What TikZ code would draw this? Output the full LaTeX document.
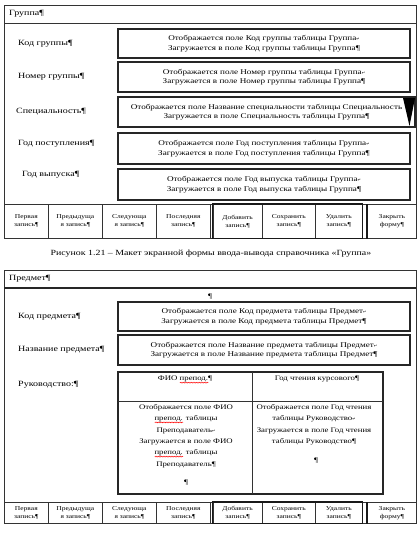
\documentclass[tikz,border=0pt]{standalone}
\usepackage{fontspec}
\setmainfont{Liberation Serif}[FakeStretch=1.25]
\newfontfamily\symfont{DejaVu Sans}
\usetikzlibrary{decorations.pathmorphing}
\newlength\sqlen
\newcommand\redsq[1]{\settowidth\sqlen{#1}\rlap{\tikz[baseline=0pt,x=1pt,y=1pt]\draw[red,line width=0.35pt,decorate,decoration={snake,amplitude=0.5pt,segment length=1.6pt}] (0pt,-1.8pt) -- (\the\sqlen,-1.8pt);}#1}
\newcommand\brkm{{\symfont\fontsize{4}{4}\selectfont ↵}}
\begin{document}
\begin{tikzpicture}[x=1pt,y=-1pt,
  frame/.style={draw=black!80, line width=0.9pt},
  fieldbox/.style={draw=black!85, line width=1.5pt, inner sep=0pt, align=center, font=\fontsize{7.3}{9.5}\selectfont},
  lbl/.style={anchor=west, inner sep=0pt, font=\fontsize{8}{9}\selectfont},
  btn/.style={draw=black!80, line width=0.7pt, inner sep=0pt, align=center, anchor=north west, font=\fontsize{6}{8}\selectfont},
  cell/.style={inner sep=0pt, align=center, anchor=north, font=\fontsize{7}{11.4}\selectfont},
  thickgrp/.style={draw=black!90, line width=1.5pt},
]
\useasboundingbox (0,0) rectangle (418,533);

% ---------------- Form 1: Группа ----------------
\draw[frame] (4,5) rectangle (416,238);
\draw[frame] (4,23) -- (416,23);
\node[lbl] (t1) at (9,14) {Группа¶};

\node[lbl] (l1) at (18,44) {Код группы¶};
\node[fieldbox, minimum width=292pt, minimum height=29pt] (f1) at (264,43.5)
  {Отображается поле Код группы таблицы Группа\brkm\\Загружается в поле Код группы таблицы Группа¶};
\node[lbl] (l2) at (18,77) {Номер группы¶};
\node[fieldbox, minimum width=292pt, minimum height=30pt] (f2) at (264,77)
  {Отображается поле Номер группы таблицы Группа\brkm\\Загружается в поле Номер группы таблицы Группа¶};
\node[lbl] (l3) at (16,112) {Специальность¶};
\node[fieldbox, minimum width=297pt, minimum height=30pt] (f3) at (266.5,112)
  {Отображается поле Название специальности таблицы Специальность\\Загружается в поле Специальность таблицы Группа¶};
\fill[black] (403,98) -- (415,98) -- (409.5,126) -- cycle;
\node[lbl] (l4) at (18,144) {Год поступления¶};
\node[fieldbox, minimum width=292pt, minimum height=31pt] (f4) at (264,148.5)
  {Отображается поле Год поступления таблицы Группа\brkm\\Загружается в поле Год поступления таблицы Группа¶};
\node[lbl] (l5) at (22,175) {Год выпуска¶};
\node[fieldbox, minimum width=292pt, minimum height=31pt] (f5) at (264,184.5)
  {Отображается поле Год выпуска таблицы Группа\brkm\\Загружается в поле Год выпуска таблицы Группа¶};

% buttons form 1
\draw[frame] (4,204) -- (416,204);
\node[btn, minimum width=44pt, minimum height=34pt] (a1) at (4,204) {Первая\\запись¶};
\node[btn, minimum width=54pt, minimum height=34pt] (a2) at (48,204) {Предыдуща\\я запись¶};
\node[btn, minimum width=54pt, minimum height=34pt] (a3) at (102,204) {Следующа\\я запись¶};
\node[btn, minimum width=54pt, minimum height=34pt] (a4) at (156,204) {Последняя\\запись¶};
\node[btn, minimum width=49.5pt, minimum height=34pt] (a5) at (212.5,204) {Добавить\\запись¶};
\node[btn, minimum width=53pt, minimum height=34pt] (a6) at (262,204) {Сохранить\\запись¶};
\node[btn, minimum width=47pt, minimum height=34pt] (a7) at (315,204) {Удалить\\запись¶};
\node[btn, minimum width=49pt, minimum height=34pt] (a8) at (367,204) {Закрыть\\форму¶};
\draw[thickgrp] (a5.north west) rectangle (a7.south east);
\draw[thickgrp] (a8.north west) -- (a8.south west);

\node[font=\fontsize{7.9}{9}\selectfont, inner sep=0pt] (cap) at (211,254)
  {Рисунок 1.21 – Макет экранной формы ввода-вывода справочника «Группа»};

% ---------------- Form 2: Предмет ----------------
\draw[frame] (4,270) rectangle (416,523);
\draw[draw=black!85, line width=1.8pt] (4,288) -- (416,288);
\node[lbl] (t2) at (9,279) {Предмет¶};
\node[font=\fontsize{7}{8}\selectfont, inner sep=0pt] (pm) at (210,297) {¶};

\node[lbl] (m1) at (18,317) {Код предмета¶};
\node[fieldbox, minimum width=292pt, minimum height=29pt] (g1) at (264,316.5)
  {Отображается поле Код предмета таблицы Предмет\brkm\\Загружается в поле Код предмета таблицы Предмет¶};
\node[lbl] (m2) at (18,350) {Название предмета¶};
\node[fieldbox, minimum width=292pt, minimum height=30pt] (g2) at (264,350)
  {Отображается поле Название предмета таблицы Предмет\brkm\\Загружается в поле Название предмета таблицы Предмет¶};
\node[lbl] (m3) at (18,385) {Руководство:¶};

% table
\draw[draw=black!85, line width=1.3pt] (118,372) rectangle (383,494);
\draw[draw=black!80, line width=0.7pt] (252,372) -- (252,494);
\draw[draw=black!80, line width=0.7pt] (118,401) -- (383,401);
\node[cell] (h1) at (185,376) {ФИО \redsq{препод.}¶};
\node[cell] (h2) at (317,376) {Год чтения курсового¶};
\node[cell] (c1) at (186,404)
  {Отображается поле ФИО\\\redsq{препод.} таблицы\\Преподаватель\brkm\\Загружается в поле ФИО\\\redsq{препод.} таблицы\\Преподаватель¶};
\node[cell] (c1b) at (186,480) {¶};
\node[cell] (c2) at (314,404)
  {Отображается поле Год чтения\\таблицы Руководство\brkm\\Загружается в поле Год чтения\\таблицы Руководство¶};
\node[cell] (c2b) at (316,458) {¶};

% buttons form 2
\draw[frame] (4,502) -- (416,502);
\node[btn, minimum width=44pt, minimum height=21pt] (b1) at (4,502) {Первая\\запись¶};
\node[btn, minimum width=54pt, minimum height=21pt] (b2) at (48,502) {Предыдуща\\я запись¶};
\node[btn, minimum width=54pt, minimum height=21pt] (b3) at (102,502) {Следующа\\я запись¶};
\node[btn, minimum width=54pt, minimum height=21pt] (b4) at (156,502) {Последняя\\запись¶};
\node[btn, minimum width=49.5pt, minimum height=21pt] (b5) at (212.5,502) {Добавить\\запись¶};
\node[btn, minimum width=53pt, minimum height=21pt] (b6) at (262,502) {Сохранить\\запись¶};
\node[btn, minimum width=47pt, minimum height=21pt] (b7) at (315,502) {Удалить\\запись¶};
\node[btn, minimum width=49pt, minimum height=21pt] (b8) at (367,502) {Закрыть\\форму¶};
\draw[thickgrp] (b5.north west) rectangle (b7.south east);
\draw[thickgrp] (b8.north west) -- (b8.south west);
\end{tikzpicture}
\end{document}
